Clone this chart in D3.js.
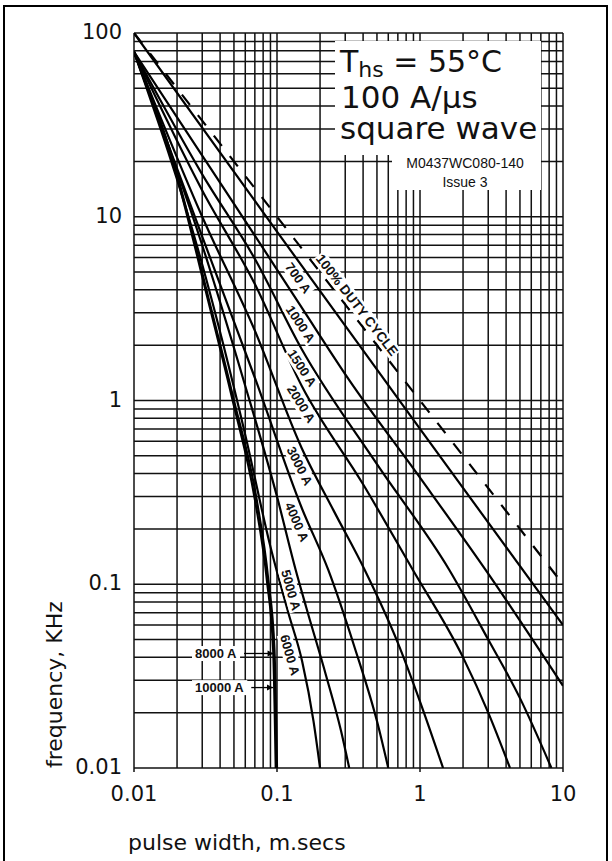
<!DOCTYPE html>
<html>
<head>
<meta charset="utf-8">
<script src="https://cdn.jsdelivr.net/npm/d3@7"></script>
<style>
body { margin: 0; background: #fff; }
text { font-family: "DejaVu Sans", Arial, sans-serif; fill: #111; }
</style>
</head>
<body>
<svg id="chart" width="612" height="861"></svg>
<script>
// pulse width (ms) vs max repetition frequency (kHz), one list per current
var labels = ["700 A", "1000 A", "1500 A", "2000 A", "3000 A", "4000 A", "5000 A", "6000 A", "8000 A", "10000 A"];
var c700 = [[0.01, 100], [0.1, 8.3], [1, 0.7], [10, 0.06]];
var c1000 = [[0.01, 79], [0.03, 21.5], [0.07, 7.9], [0.149, 3.2], [0.32, 1.29], [1, 0.38], [3.1, 0.11], [10, 0.028]];
var c1500 = [[0.01, 79], [0.03, 17], [0.07, 5.9], [0.149, 1.9], [0.5, 0.45], [1.6, 0.12], [3, 0.05], [5, 0.024], [8.3, 0.01]];
var c2000 = [[0.01, 79], [0.03, 13.9], [0.07, 4.3], [0.149, 1.2], [0.4, 0.35], [0.89, 0.12], [2, 0.04], [3, 0.02], [4.26, 0.01]];
var c3000 = [[0.01, 79], [0.03, 10], [0.07, 2.4], [0.149, 0.55], [0.25, 0.25], [0.41, 0.12], [0.7, 0.048], [1, 0.023], [1.45, 0.01]];
var c4000 = [[0.01, 79], [0.03, 7.8], [0.07, 1.33], [0.149, 0.26], [0.228, 0.12], [0.35, 0.045], [0.5, 0.018], [0.6, 0.01]];
var c5000 = [[0.01, 79], [0.03, 7], [0.06, 1.2], [0.1, 0.3], [0.135, 0.12], [0.16, 0.075], [0.22, 0.032], [0.28, 0.016], [0.32, 0.01]];
var c6000 = [[0.01, 79], [0.03, 5.5], [0.06, 0.65], [0.09, 0.16], [0.12, 0.07], [0.15, 0.038], [0.18, 0.018], [0.2, 0.01]];
var c8000 = [[0.01, 79], [0.0187, 20.5], [0.0335, 3.5], [0.05, 1.0], [0.072, 0.29], [0.087, 0.105], [0.096, 0.044], [0.1, 0.01]];
var c10000 = [[0.01, 79], [0.0185, 20.4], [0.033, 3.5], [0.049, 1.0], [0.07, 0.29], [0.085, 0.105], [0.094, 0.044], [0.098, 0.01]];
var dutyCycle = [[0.01, 100], [10, 0.1]];
var xTicks = [0.01, 0.1, 1, 10];
var yTicks = [0.01, 0.1, 1, 10, 100];
var xTickLabels = ["0.01", "0.1", "1", "10"];
var yTickLabels = ["0.01", "0.1", "1", "10", "100"];

var curves = [c700, c1000, c1500, c2000, c3000, c4000, c5000, c6000, c8000, c10000];

var svg = d3.select("#chart");
var pLeft = 134, pRight = 563, pTop = 33, pBottom = 768;

var x = d3.scaleLog().domain([0.01, 10]).range([pLeft, pRight]);
var y = d3.scaleLog().domain([0.01, 100]).range([pBottom, pTop]);

// outer frame
svg.append("rect").attr("x", 4).attr("y", 6).attr("width", 603).attr("height", 870)
  .attr("fill", "none").attr("stroke", "#000").attr("stroke-width", 2);

// grid: 1..9 in each decade
var xGrid = [], yGrid = [];
[0.01, 0.1, 1].forEach(function(d) { for (var k = 1; k < 10; k++) xGrid.push(d * k); });
xGrid.push(10);
[0.01, 0.1, 1, 10].forEach(function(d) { for (var k = 1; k < 10; k++) yGrid.push(d * k); });
yGrid.push(100);

var grid = svg.append("g").attr("stroke", "#111").attr("stroke-width", 1.5);
grid.selectAll(".vx").data(xGrid).enter().append("line")
  .attr("x1", d => x(d)).attr("x2", d => x(d)).attr("y1", pTop).attr("y2", pBottom);
grid.selectAll(".hy").data(yGrid).enter().append("line")
  .attr("y1", d => y(d)).attr("y2", d => y(d)).attr("x1", pLeft).attr("x2", pRight);

// small ticks below the x axis at decades
grid.selectAll(".tk").data(xTicks).enter().append("line")
  .attr("x1", d => x(d)).attr("x2", d => x(d)).attr("y1", pBottom).attr("y2", pBottom + 4);

// white box behind the legend text
svg.append("rect").attr("x", 335).attr("y", 41).attr("width", 206).attr("height", 114).attr("fill", "#fff");
svg.append("rect").attr("x", 392).attr("y", 150).attr("width", 149).attr("height", 40).attr("fill", "#fff");

svg.append("clipPath").attr("id", "plot").append("rect")
  .attr("x", pLeft).attr("y", pTop).attr("width", pRight - pLeft).attr("height", pBottom - pTop);

var line = d3.line().x(d => x(d[0])).y(d => y(d[1])).curve(d3.curveMonotoneX);

var plot = svg.append("g").attr("clip-path", "url(#plot)");
plot.selectAll(".curve").data(curves).enter().append("path")
  .attr("d", line).attr("fill", "none").attr("stroke", "#000").attr("stroke-width", 2.2);

plot.append("path").attr("d", line(dutyCycle)).attr("fill", "none")
  .attr("stroke", "#000").attr("stroke-width", 2.2).attr("stroke-dasharray", "13,13");

// pixel x of a curve at pixel y, linear in log space between points
function xAt(c, py) {
  var f = y.invert(py);
  for (var i = 1; i < c.length; i++) {
    if (c[i][1] <= f) {
      var a = c[i - 1], b = c[i];
      var u = (Math.log(f) - Math.log(a[1])) / (Math.log(b[1]) - Math.log(a[1]));
      return x(Math.exp(Math.log(a[0]) + u * (Math.log(b[0]) - Math.log(a[0]))));
    }
  }
  return x(c[c.length - 1][0]);
}

var labelFont = "Arial, 'Liberation Sans', sans-serif";

// label sits beside its curve, rotated with it; cy = wanted label centre height, off = gap (negative: other side)
function placeLabel(txt, c, cy, off, size) {
  var ang = Math.atan2(6, xAt(c, cy + 3) - xAt(c, cy - 3));
  var py = cy - off * Math.cos(ang);
  var px = xAt(c, py);
  var g = svg.append("g")
    .attr("transform", "translate(" + (px - off * Math.sin(ang)) + "," + cy + ") rotate(" + (ang * 180 / Math.PI) + ")");
  var bg = g.append("rect").attr("fill", "#fff");
  var t = g.append("text").attr("text-anchor", "middle").attr("dy", "0.35em")
    .style("font-family", labelFont).style("font-size", size + "px").style("font-weight", "bold")
    .text(txt);
  var bb = t.node().getBBox();
  bg.attr("x", bb.x - 1).attr("y", bb.y).attr("width", bb.width + 2).attr("height", bb.height);
}

var labelRows = [278, 324, 368, 404, 466, 522, 590, 655];
for (var i = 0; i < 8; i++) placeLabel(labels[i], curves[i], labelRows[i], 10, 13);
placeLabel("100% DUTY CYCLE", dutyCycle, 305, -9, 13.5);

// arrowed labels for the two highest currents
[[labels[8], 0.042, c8000], [labels[9], 0.0274, c10000]].forEach(function(a) {
  var yy = y(a[1]);
  var g = svg.append("g");
  var bg = g.append("rect").attr("fill", "#fff");
  var t = g.append("text").attr("x", 195).attr("y", yy).attr("dy", "0.35em")
    .style("font-family", labelFont).style("font-size", "13px").style("font-weight", "bold")
    .text(a[0]);
  var bb = t.node().getBBox();
  bg.attr("x", bb.x - 3).attr("y", bb.y).attr("width", bb.width + 6).attr("height", bb.height);
  var xe = xAt(a[2], yy) - 1;
  g.append("line").attr("x1", bb.x + bb.width + 7).attr("x2", xe).attr("y1", yy).attr("y2", yy)
    .attr("stroke", "#000").attr("stroke-width", 1.3);
  g.append("path").attr("d", "M" + xe + "," + yy + "l-6,-3v6z").attr("fill", "#000");
});

// axis tick labels
svg.selectAll(".xl").data(xTicks).enter().append("text")
  .attr("x", d => x(d)).attr("y", 801).attr("text-anchor", "middle").style("font-size", "21px")
  .text((d, i) => xTickLabels[i]);
svg.selectAll(".yl").data(yTicks).enter().append("text")
  .attr("x", 122).attr("y", d => y(d) + 6).attr("text-anchor", "end").style("font-size", "21px")
  .text((d, i) => yTickLabels[i]);

// axis titles
svg.append("text").attr("x", 128).attr("y", 850).style("font-size", "22px").text("pulse width, m.secs");
svg.append("text").attr("transform", "translate(62,768) rotate(-90)").style("font-size", "22px").text("frequency, KHz");

// legend text
var lg = svg.append("text").attr("x", 340).attr("y", 72).style("font-size", "30px");
lg.append("tspan").text("T");
lg.append("tspan").attr("dy", 5).style("font-size", "22px").text("hs");
lg.append("tspan").attr("dy", -5).text(" = 55°C");
svg.append("text").attr("x", 341).attr("y", 108).style("font-size", "31px").text("100 A/µs");
svg.append("text").attr("x", 340).attr("y", 139).style("font-size", "31px").text("square wave");
svg.append("text").attr("x", 465).attr("y", 168).attr("text-anchor", "middle").style("font-size", "14px")
  .style("font-family", labelFont).text("M0437WC080-140");
svg.append("text").attr("x", 465).attr("y", 187).attr("text-anchor", "middle").style("font-size", "14px")
  .style("font-family", labelFont).text("Issue 3");
</script>
</body>
</html>
